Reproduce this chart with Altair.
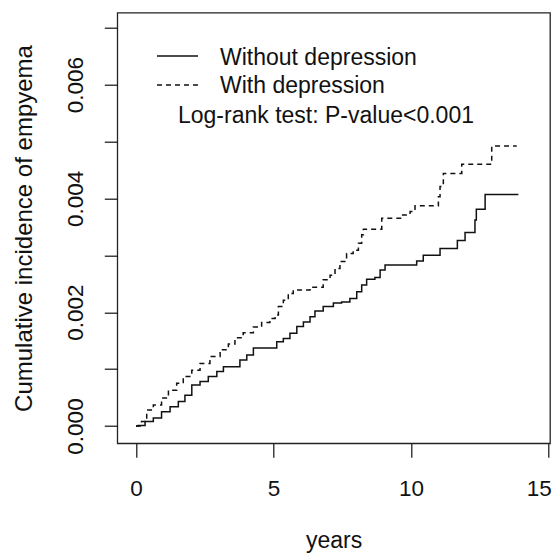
import altair as alt
import pandas as pd

# Without depression (solid)
t_without = [0, 0.08, 0.33, 0.63, 0.93, 1.24, 1.54, 1.78, 2.03, 2.33, 2.63, 2.94, 3.18, 3.78, 4.03,
             4.27, 5.12, 5.36, 5.6, 5.85, 6.09, 6.33, 6.51, 6.81, 7.18, 7.48, 7.78, 8.03, 8.21, 8.39,
             8.69, 8.88, 9.06, 10.21, 10.45, 11.06, 11.69, 11.97, 12.33, 12.38, 12.7, 13.91]
v_without = [0, 0.00001, 0.00008, 0.00014, 0.00025, 0.00034, 0.00043, 0.00054, 0.00072, 0.00078,
             0.00087, 0.00096, 0.00104, 0.00116, 0.00125, 0.00137, 0.00148, 0.00154, 0.00163, 0.00175,
             0.00183, 0.00192, 0.00202, 0.0021, 0.00216, 0.00218, 0.00224, 0.00236, 0.00248, 0.00258,
             0.00261, 0.00274, 0.00283, 0.0029, 0.003, 0.00312, 0.00326, 0.0034, 0.00362, 0.00381,
             0.00407, 0.00407]

# With depression (dashed)
t_with = [0, 0.2, 0.39, 0.63, 0.93, 1.18, 1.48, 1.72, 2.03, 2.33, 2.69, 3.06, 3.36, 3.6, 3.9, 4.27,
          4.57, 4.87, 5.06, 5.18, 5.36, 5.54, 5.72, 6.33, 6.81, 7.06, 7.24, 7.42, 7.66, 7.9, 8.09,
          8.21, 8.27, 8.94, 9.67, 9.97, 10.15, 11.0, 11.06, 11.18, 11.85, 12.94, 13.85]
v_with = [0, 0.00008, 0.00028, 0.00037, 0.00049, 0.00063, 0.00075, 0.00087, 0.00098, 0.0011,
          0.00122, 0.00134, 0.00144, 0.00155, 0.00164, 0.00174, 0.00182, 0.00189, 0.00195, 0.0021,
          0.00221, 0.00233, 0.00239, 0.00244, 0.00257, 0.00265, 0.00277, 0.00289, 0.00303, 0.00309,
          0.00321, 0.00336, 0.00346, 0.00365, 0.00371, 0.00377, 0.00387, 0.00403, 0.00421, 0.00444,
          0.0046, 0.00492, 0.00492]

series_names = ["Without depression", "With depression"]
annotation = "Log-rank test: P-value<0.001"
x_ticks = [0, 5, 10, 15]
y_ticks = [0, 0.001, 0.002, 0.003, 0.004, 0.005, 0.006, 0.007]

FONT = "Liberation Sans"
INK = "#111111"

df_without = pd.DataFrame({"years": t_without, "inc": v_without})
df_with = pd.DataFrame({"years": t_with, "inc": v_with})

x_enc = alt.X(
    "years:Q",
    scale=alt.Scale(domain=[-0.68, 15.06], nice=False, zero=False),
    axis=alt.Axis(
        values=x_ticks, title="years", grid=False, domain=False,
        tickSize=14, tickColor=INK, tickWidth=1.2,
        labelFont=FONT, labelFontSize=22.5, labelColor=INK,
        labelBaseline="alphabetic", labelPadding=37.7,
        labelFlush=5, labelFlushOffset=3,
        titleFont=FONT, titleFontSize=23, titleFontWeight="normal", titleColor=INK,
        titleX=216.3, titleY=103.7, titleBaseline="alphabetic", titleAlign="center",
    ),
)
y_enc = alt.Y(
    "inc:Q",
    scale=alt.Scale(domain=[-0.000304, 0.007264], nice=False, zero=False),
    axis=alt.Axis(
        values=y_ticks, title="Cumulative incidence of empyema", grid=False, domain=False,
        labelExpr="round(datum.value*1000) % 2 == 0 ? format(datum.value, '.3f') : ''",
        tickSize=13, tickColor=INK, tickWidth=1.2,
        labelFont=FONT, labelFontSize=22.5, labelColor=INK,
        labelAngle=270, labelAlign="center", labelBaseline="alphabetic", labelPadding=22,
        labelFlush=False, labelOverlap=False,
        titleFont=FONT, titleFontSize=24, titleFontWeight="normal", titleColor=INK,
        titleAngle=270, titleAlign="center", titleBaseline="alphabetic",
        titleX=-86.3, titleY=215.3,
    ),
)

solid = alt.Chart(df_without).mark_line(
    interpolate="step-after", color=INK, strokeWidth=1.5
).encode(x=x_enc, y=y_enc)

dashed = alt.Chart(df_with).mark_line(
    interpolate="step-after", color=INK, strokeWidth=1.5, strokeDash=[5, 4]
).encode(x="years:Q", y="inc:Q")

one = pd.DataFrame({"k": [0]})
leg_solid = alt.Chart(one).mark_rule(color=INK, strokeWidth=1.6).encode(
    x=alt.value(39.7), x2=alt.value(80.7), y=alt.value(43.3)
)
leg_dashed = alt.Chart(one).mark_rule(color=INK, strokeWidth=1.3, strokeDash=[5, 4]).encode(
    x=alt.value(39.7), x2=alt.value(80.7), y=alt.value(72.3)
)
txt_style = dict(font=FONT, fontSize=23, color=INK, align="left", baseline="alphabetic")
leg_t1 = alt.Chart(one).mark_text(text=series_names[0], **txt_style).encode(
    x=alt.value(102.7), y=alt.value(52.3)
)
leg_t2 = alt.Chart(one).mark_text(text=series_names[1], **txt_style).encode(
    x=alt.value(102.7), y=alt.value(80.6)
)
leg_t3 = alt.Chart(one).mark_text(text=annotation, **txt_style).encode(
    x=alt.value(60.7), y=alt.value(110)
)

chart = alt.layer(solid, dashed, leg_solid, leg_dashed, leg_t1, leg_t2, leg_t3).properties(
    width=432.7, height=430.6,
    autosize=alt.AutoSizeParams(type="none"),
    padding={"left": 109.3, "top": 4.7, "right": 2, "bottom": 109.7},
    background="white",
).configure_view(stroke="#222222", strokeWidth=1.3)

chart.save("out.html", embed_options={"renderer": "svg", "actions": False})
